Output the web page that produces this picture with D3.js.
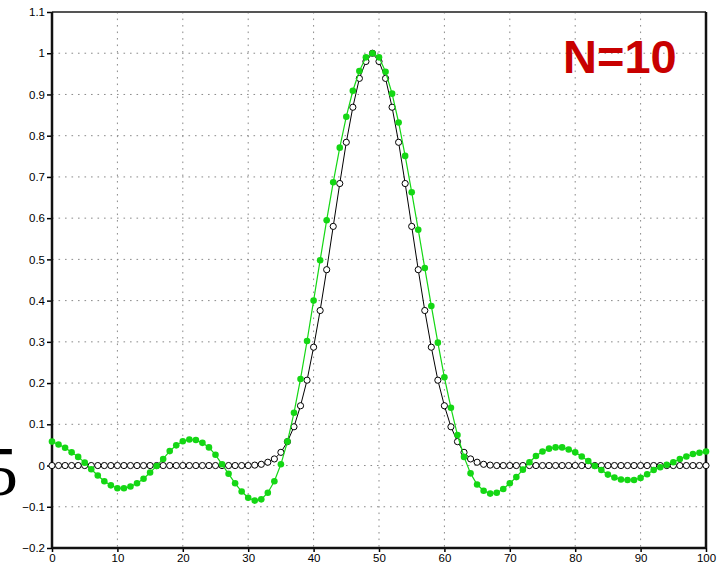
<!DOCTYPE html>
<html>
<head>
<meta charset="utf-8">
<script src="https://cdn.jsdelivr.net/npm/d3@7"></script>
<style>
  body { margin: 0; background: #fff; }
  svg { display: block; font-family: "Liberation Sans", Arial, sans-serif; }
  .tick text { font-size: 11.5px; fill: #000; }
</style>
</head>
<body>
<svg class="chart" width="723" height="566"></svg>
<script>
// sample positions along x
var sampleX = d3.range(0, 101);

// exact curve (black open circles)
var exact = [
  0, 0, 0, 0, 0, 0, 0, 0, 0, 0,
  0, 0, 0, 0, 0, 0, 0, 0, 0, 0,
  0, 0, 0, 0, 0, 0, 0, 0, 0, 0,
  0, 0.001, 0.003, 0.008, 0.016, 0.032, 0.058, 0.094, 0.145, 0.207,
  0.287, 0.376, 0.475, 0.580, 0.684, 0.784, 0.869, 0.939, 0.980, 1.000,
  0.980, 0.939, 0.869, 0.784, 0.684, 0.580, 0.475, 0.376, 0.287, 0.207,
  0.145, 0.094, 0.058, 0.032, 0.016, 0.008, 0.003, 0.001, 0, 0,
  0, 0, 0, 0, 0, 0, 0, 0, 0, 0,
  0, 0, 0, 0, 0, 0, 0, 0, 0, 0,
  0, 0, 0, 0, 0, 0, 0, 0, 0, 0,
  0
];

// truncated series, N=10 (green dots)
var approx = [
  0.058, 0.051, 0.043, 0.032, 0.021, 0.007, -0.009, -0.024, -0.038, -0.048,
  -0.055, -0.055, -0.051, -0.043, -0.032, -0.017, -0.001, 0.016, 0.035, 0.049,
  0.059, 0.063, 0.062, 0.055, 0.044, 0.026, 0.003, -0.020, -0.043, -0.063,
  -0.078, -0.085, -0.082, -0.066, -0.038, 0.003, 0.058, 0.128, 0.210, 0.302,
  0.400, 0.498, 0.595, 0.687, 0.771, 0.846, 0.909, 0.957, 0.990, 1.000,
  0.990, 0.955, 0.902, 0.832, 0.751, 0.663, 0.572, 0.479, 0.387, 0.298,
  0.214, 0.140, 0.074, 0.021, -0.019, -0.046, -0.061, -0.068, -0.066, -0.057,
  -0.043, -0.028, -0.010, 0.008, 0.023, 0.034, 0.041, 0.044, 0.044, 0.039,
  0.032, 0.022, 0.011, -0.001, -0.011, -0.022, -0.029, -0.034, -0.035, -0.035,
  -0.030, -0.021, -0.011, -0.004, 0.002, 0.008, 0.016, 0.022, 0.028, 0.031,
  0.034
];

var xTicks = [0, 10, 20, 30, 40, 50, 60, 70, 80, 90, 100];
var yTicks = [-0.2, -0.1, 0, 0.1, 0.2, 0.3, 0.4, 0.5, 0.6, 0.7, 0.8, 0.9, 1, 1.1];
var label = "N=10";

var margin = { top: 12, right: 17, bottom: 18, left: 52 };
var width = 723 - margin.left - margin.right,
    height = 566 - margin.top - margin.bottom;

var svg = d3.select(".chart");

// stray glyph at far left
svg.append("text")
  .attr("x", -17)
  .attr("y", 495)
  .style("font-family", "'Liberation Serif', 'DejaVu Serif', serif")
  .style("font-size", "70px")
  .text("5");

var g = svg.append("g")
  .attr("transform", "translate(" + margin.left + "," + margin.top + ")");

var x = d3.scaleLinear().domain([0, 100]).range([0, width]);
var y = d3.scaleLinear().domain([-0.2, 1.1]).range([height, 0]);

// dotted grid
g.append("g").selectAll("line")
  .data(yTicks)
  .enter().append("line")
  .attr("x1", 0).attr("x2", width)
  .attr("y1", d => y(d)).attr("y2", d => y(d))
  .attr("stroke", "#8a8a8a")
  .attr("stroke-dasharray", "1.6,4.9");
g.append("g").selectAll("line")
  .data(xTicks)
  .enter().append("line")
  .attr("y1", 0).attr("y2", height)
  .attr("x1", d => x(d)).attr("x2", d => x(d))
  .attr("stroke", "#8a8a8a")
  .attr("stroke-dasharray", "1.6,4.9");

// axes
var xAxis = d3.axisBottom(x).tickValues(xTicks).tickSize(4).tickPadding(2).tickSizeOuter(0)
  .tickFormat(d3.format("d"));
var yAxis = d3.axisLeft(y).tickValues(yTicks).tickSize(5).tickPadding(2).tickSizeOuter(0)
  .tickFormat(d => d === 0 ? "0" : d3.format("")(+d.toFixed(1)).replace("-", "\u2212"));

g.append("g")
  .attr("transform", "translate(0," + height + ")")
  .call(xAxis)
  .call(a => a.select(".domain").remove())
  .call(a => a.selectAll(".tick line").attr("stroke-width", 1.5));
g.append("g")
  .call(yAxis)
  .call(a => a.select(".domain").remove())
  .call(a => a.selectAll(".tick line").attr("stroke-width", 1.5));

// frame
g.append("line").attr("x1", 0).attr("x2", width).attr("y1", 0).attr("y2", 0)
  .attr("stroke", "#555").attr("stroke-width", 2);
g.append("line").attr("x1", 0).attr("x2", 0).attr("y1", 0).attr("y2", height)
  .attr("stroke", "#111").attr("stroke-width", 2.5);
g.append("line").attr("x1", 0).attr("x2", width).attr("y1", height).attr("y2", height)
  .attr("stroke", "#111").attr("stroke-width", 2.5);
g.append("line").attr("x1", width).attr("x2", width).attr("y1", 0).attr("y2", height)
  .attr("stroke", "#111").attr("stroke-width", 2.5);

var line = d3.line()
  .x((d, i) => x(sampleX[i]))
  .y(d => y(d));

// black curve with open circles
g.append("path")
  .datum(exact)
  .attr("d", line)
  .attr("fill", "none")
  .attr("stroke", "#000")
  .attr("stroke-width", 1);
g.append("g").selectAll("circle")
  .data(exact)
  .enter().append("circle")
  .attr("cx", (d, i) => x(sampleX[i]))
  .attr("cy", d => y(d))
  .attr("r", 3.1)
  .attr("fill", "#fff")
  .attr("stroke", "#000")
  .attr("stroke-width", 1);

// green curve with filled dots
var green = "#14d714";
g.append("path")
  .datum(approx)
  .attr("d", line)
  .attr("fill", "none")
  .attr("stroke", green)
  .attr("stroke-width", 1.2);
g.append("g").selectAll("circle")
  .data(approx)
  .enter().append("circle")
  .attr("cx", (d, i) => x(sampleX[i]))
  .attr("cy", d => y(d))
  .attr("r", 3.3)
  .attr("fill", green);

// label
svg.append("text")
  .attr("x", 563)
  .attr("y", 73)
  .attr("fill", "#c80000")
  .style("font-size", "47px")
  .style("font-weight", "bold")
  .text(label);
</script>
</body>
</html>
